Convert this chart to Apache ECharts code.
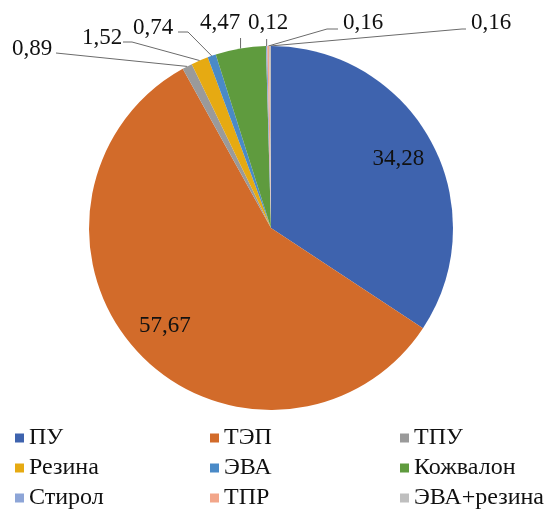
<!DOCTYPE html>
<html>
<head>
<meta charset="utf-8">
<script src="https://cdn.jsdelivr.net/npm/echarts@6/dist/echarts.min.js"></script>
<style>
  html, body { margin: 0; padding: 0; background: #fff; }
  #chart { width: 549px; height: 513px; }
</style>
</head>
<body>
<div id="chart"></div>
<script>
// data
const categories = ['ПУ', 'ТЭП', 'ТПУ', 'Резина', 'ЭВА', 'Кожвалон', 'Стирол', 'ТПР', 'ЭВА+резина']
const shares = [34.28, 57.67, 0.89, 1.52, 0.74, 4.47, 0.12, 0.16, 0.16]
const colors = ['#3E63AE', '#D26B2A', '#9A9A9A', '#E6AA12', '#4A8AC7', '#5F9B3E', '#8DA5D7', '#F2A68A', '#BFBFBF']

// legend columns (as in the reference: 3 columns x 3 rows)
const legendCols = [
  ['ПУ', 'Резина', 'Стирол'],
  ['ТЭП', 'ЭВА', 'ТПР'],
  ['ТПУ', 'Кожвалон', 'ЭВА+резина']
]
const legendLeft = [15, 210, 400]

// label placement for small slices: [left x, middle y, line start x, line start y, bend x]
// null = inside label
const labelSpots = [
  null,
  null,
  [12, 49, 56, 53, 56],
  [82, 38, 123, 42, 132],
  [133, 28, 178, 32, 188],
  [200, 23, 'v', 38],
  [248, 23, 'v', 39],
  [343, 23, 338, 29, 327],
  [471, 23, 466, 29, 462]
]

const pieCenter = [271, 228]
const pieRadius = 182
const font = "'Times New Roman', 'Liberation Serif', 'DejaVu Serif', serif"

const chart = echarts.init(document.getElementById('chart'), null, { renderer: 'canvas' })

const fmt = v => v.toFixed(2).replace('.', ',')

const option = {
  animation: false,
  color: colors,
  textStyle: { fontFamily: font },
  legend: legendCols.map((col, i) => ({
    data: col,
    orient: 'vertical',
    left: legendLeft[i],
    top: 426,
    padding: 0,
    itemWidth: 9,
    itemHeight: 9,
    itemGap: 6,
    icon: 'rect',
    selectedMode: false,
    textStyle: { fontFamily: font, fontSize: 24, lineHeight: 24, color: '#111' }
  })),
  series: [{
    type: 'pie',
    center: pieCenter,
    radius: pieRadius,
    startAngle: 90,
    clockwise: true,
    avoidLabelOverlap: false,
    itemStyle: { borderWidth: 0 },
    label: {
      fontFamily: font,
      fontSize: 23,
      color: '#111',
      formatter: p => fmt(p.value)
    },
    labelLine: {
      show: true,
      length: 10,
      length2: 10,
      lineStyle: { color: '#6b6b6b', width: 1 }
    },
    labelLayout: params => {
      const spot = labelSpots[params.dataIndex]
      const r = params.labelRect
      if (!spot) {
        // push inside labels further out along the radius
        const cx = r.x + r.width / 2
        const cy = r.y + r.height / 2
        const k = 1.54
        return {
          x: pieCenter[0] + (cx - pieCenter[0]) * k,
          y: pieCenter[1] + (cy - pieCenter[1]) * k,
          align: 'center',
          verticalAlign: 'middle'
        }
      }
      const pts = params.labelLinePoints
      const edge = pts ? pts[0] : [pieCenter[0], pieCenter[1] - pieRadius]
      let line
      if (spot[2] === 'v') {
        line = [edge, [edge[0], spot[3]], [edge[0], spot[3]]]
      } else {
        line = [edge, [spot[4], spot[3]], [spot[2], spot[3]]]
      }
      return {
        x: spot[0],
        y: spot[1],
        align: 'left',
        verticalAlign: 'middle',
        labelLinePoints: line
      }
    },
    data: categories.map((name, i) => ({
      name,
      value: shares[i],
      label: { position: labelSpots[i] ? 'outside' : 'inside' },
      labelLine: { show: !!labelSpots[i] }
    }))
  }]
}

chart.setOption(option)
</script>
</body>
</html>
